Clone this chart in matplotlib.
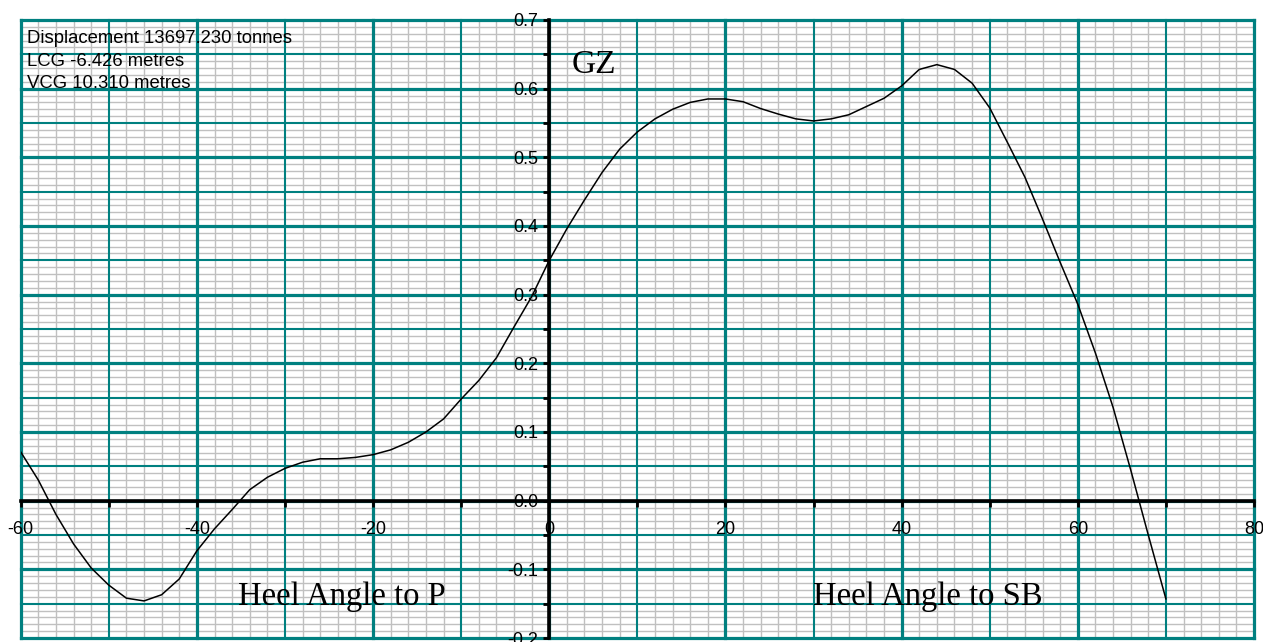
import numpy as np
import matplotlib
matplotlib.use("Agg")
import matplotlib.pyplot as plt
from matplotlib.ticker import MultipleLocator, FormatStrFormatter

# Righting lever (GZ) curve, heel angle in degrees, GZ in metres
heel_angle = [-60, -58, -56, -54, -52, -50, -48, -46, -44, -42, -40, -38, -36, -34,
              -32, -30, -28, -26, -24, -22, -20, -18, -16, -14, -12, -10, -8, -6,
              -4, -2, 0, 2, 4, 6, 8, 10, 12, 14, 16, 18, 20, 22, 24, 26, 28, 30,
              32, 34, 36, 38, 40, 42, 44, 46, 48, 50, 52, 54, 56, 58, 60, 62, 64,
              66, 68, 70]
gz = [0.071, 0.030, -0.020, -0.063, -0.098, -0.123, -0.142, -0.146, -0.137, -0.114,
      -0.073, -0.041, -0.013, 0.016, 0.034, 0.047, 0.056, 0.061, 0.061, 0.063,
      0.067, 0.074, 0.085, 0.100, 0.119, 0.148, 0.175, 0.208, 0.253, 0.297,
      0.350, 0.396, 0.438, 0.478, 0.512, 0.537, 0.556, 0.570, 0.580, 0.585,
      0.585, 0.581, 0.571, 0.563, 0.556, 0.553, 0.556, 0.562, 0.574, 0.586,
      0.604, 0.628, 0.635, 0.628, 0.608, 0.572, 0.522, 0.471, 0.410, 0.347,
      0.286, 0.215, 0.136, 0.045, -0.050, -0.143]

x_ticks = [-60, -40, -20, 0, 20, 40, 60, 80]
y_ticks = [-0.2, -0.1, 0.0, 0.1, 0.2, 0.3, 0.4, 0.5, 0.6, 0.7]
info_lines = ["Displacement 13697.230 tonnes", "LCG -6.426 metres", "VCG 10.310 metres"]

SANS = ["Liberation Sans", "DejaVu Sans"]
SERIF = ["Liberation Serif", "DejaVu Serif"]
TEAL = "#008080"
GRAY = "#c0c0c0"

fig = plt.figure(figsize=(12.63, 6.42), dpi=100)
ax = fig.add_axes([0.01639, 0.00623, 0.97648, 0.96262])
ax.set_xlim(-60, 80)
ax.set_ylim(-0.2, 0.7)
ax.set_axisbelow(False)

# fine grey grid: every 2 degrees and every 0.01 m
for xi in range(-60, 81, 2):
    if xi % 10:
        ax.axvline(xi, color=GRAY, lw=1.0, zorder=1)
for yi in range(-20, 71):
    if yi % 5:
        ax.axhline(yi / 100, color=GRAY, lw=1.0, zorder=1)

# teal grid: heavier at 20 deg / 0.1 m, lighter at 10 deg / 0.05 m
for xi in range(-60, 81, 10):
    ax.axvline(xi, color=TEAL, lw=2.3 if xi % 20 == 0 else 1.5, zorder=2, clip_on=False)
for yi in range(-20, 71, 5):
    ax.axhline(yi / 100, color=TEAL, lw=2.3 if yi % 10 == 0 else 1.5, zorder=2, clip_on=False)

# axes through the origin
for side in ("top", "right"):
    ax.spines[side].set_visible(False)
for side in ("left", "bottom"):
    ax.spines[side].set_position(("data", 0))
    ax.spines[side].set_linewidth(2.6)
    ax.spines[side].set_color("black")
    ax.spines[side].set_zorder(4)

ax.set_xticks(x_ticks)
ax.set_yticks(y_ticks)
ax.xaxis.set_minor_locator(MultipleLocator(10))
ax.yaxis.set_minor_locator(MultipleLocator(0.05))
ax.xaxis.set_major_formatter(FormatStrFormatter("%d"))
ax.yaxis.set_major_formatter(FormatStrFormatter("%.1f"))
ax.tick_params(which="both", direction="out", length=4, width=2, color="black")
ax.tick_params(axis="x", which="major", labelsize=13, pad=11)
ax.tick_params(axis="y", which="major", labelsize=13, pad=4)
for lab in ax.get_xticklabels() + ax.get_yticklabels():
    lab.set_family(SANS)

ax.plot(heel_angle, gz, color="black", lw=1.1, zorder=5)

info_y = [0.6665, 0.6335, 0.6008]
for txt, ty in zip(info_lines, info_y):
    ax.text(-59.25, ty, txt, ha="left", va="baseline", fontsize=13.3, family=SANS, zorder=6)

ax.text(5.1, 0.6228, "GZ", ha="center", va="baseline", fontsize=24, family=SERIF, zorder=6)
ax.text(-23.6, -0.152, "Heel Angle to P", ha="center", va="baseline", fontsize=23.5,
        family=SERIF, zorder=6)
ax.text(43.0, -0.152, "Heel Angle to SB", ha="center", va="baseline", fontsize=23.5,
        family=SERIF, zorder=6)

fig.savefig("out.png", dpi=100)
